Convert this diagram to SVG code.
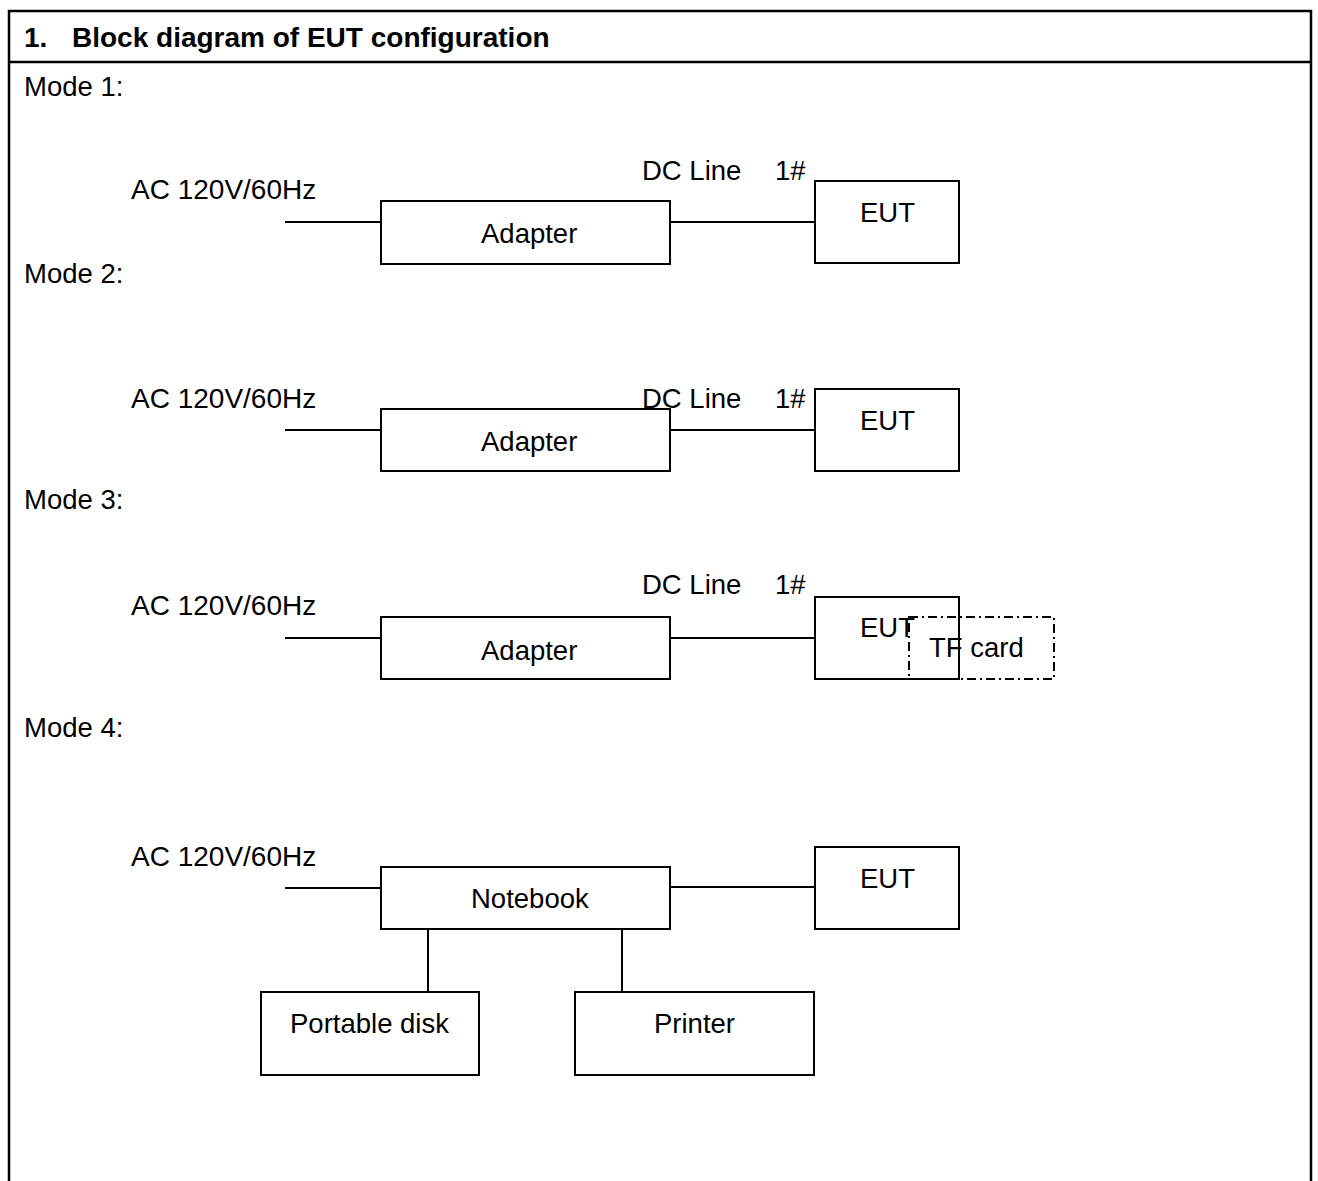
<svg xmlns="http://www.w3.org/2000/svg" width="1318" height="1181" viewBox="0 0 1318 1181">
<style>
text{font-family:"Liberation Sans",Arial,sans-serif;font-size:27.5px;fill:#000}
.title{font-weight:bold;font-size:28px}
.ac{font-size:28px}
.box{fill:#fff;stroke:#000;stroke-width:2}
.dash{fill:none;stroke:#000;stroke-width:2;stroke-dasharray:9 4 2 4}
.ln{stroke:#000;stroke-width:2;fill:none}
.frame{stroke:#000;stroke-width:2.5;fill:none}
</style>
<rect width="1318" height="1181" fill="#fff"/>
<g id="frame">
<path class="frame" d="M9,1181 V11 H1311 V1181"/>
<line class="frame" x1="9" y1="62" x2="1311" y2="62"/>
<text class="title" x="24" y="47">1.</text>
<text class="title" x="72" y="47">Block diagram of EUT configuration</text>
</g>
<g id="labels">
<text x="24" y="96">Mode 1:</text>
<text x="24" y="283">Mode 2:</text>
<text x="24" y="509">Mode 3:</text>
<text x="24" y="737">Mode 4:</text>
<text class="ac" x="131" y="199">AC 120V/60Hz</text>
<text x="642" y="180">DC Line</text>
<text x="775" y="180">1#</text>
<text class="ac" x="131" y="408">AC 120V/60Hz</text>
<text class="ac" x="131" y="615">AC 120V/60Hz</text>
<text x="642" y="594">DC Line</text>
<text x="775" y="594">1#</text>
<text class="ac" x="131" y="866">AC 120V/60Hz</text>
</g>
<g id="connectors">
<line class="ln" x1="285" y1="222" x2="381" y2="222"/>
<line class="ln" x1="670" y1="222" x2="815" y2="222"/>
<line class="ln" x1="285" y1="430" x2="381" y2="430"/>
<line class="ln" x1="670" y1="430" x2="815" y2="430"/>
<line class="ln" x1="285" y1="638" x2="381" y2="638"/>
<line class="ln" x1="670" y1="638" x2="815" y2="638"/>
<line class="ln" x1="285" y1="888" x2="381" y2="888"/>
<line class="ln" x1="670" y1="887" x2="815" y2="887"/>
<line class="ln" x1="428" y1="929" x2="428" y2="992"/>
<line class="ln" x1="622" y1="929" x2="622" y2="992"/>
</g>
<g id="m1-adapter"><rect class="box" x="381" y="201" width="289" height="63"/><text x="481" y="243">Adapter</text></g>
<g id="m1-eut"><rect class="box" x="815" y="181" width="144" height="82"/><text x="860" y="222">EUT</text></g>
<g id="m2-adapter"><rect class="box" x="381" y="409" width="289" height="62"/><text x="481" y="451">Adapter</text></g>
<text x="642" y="408">DC Line</text>
<text x="775" y="408">1#</text>
<g id="m2-eut"><rect class="box" x="815" y="389" width="144" height="82"/><text x="860" y="430">EUT</text></g>
<g id="m3-adapter"><rect class="box" x="381" y="617" width="289" height="62"/><text x="481" y="660">Adapter</text></g>
<g id="m3-eut"><rect class="box" x="815" y="597" width="144" height="82"/><text x="860" y="637">EUT</text></g>
<g id="m3-tfcard"><rect class="dash" x="909" y="617" width="145" height="62"/><text x="929" y="657">TF card</text></g>
<g id="m4-notebook"><rect class="box" x="381" y="867" width="289" height="62"/><text x="471" y="908">Notebook</text></g>
<g id="m4-eut"><rect class="box" x="815" y="847" width="144" height="82"/><text x="860" y="888">EUT</text></g>
<g id="m4-disk"><rect class="box" x="261" y="992" width="218" height="83"/><text x="290" y="1033">Portable disk</text></g>
<g id="m4-printer"><rect class="box" x="575" y="992" width="239" height="83"/><text x="654" y="1033">Printer</text></g>
</svg>
